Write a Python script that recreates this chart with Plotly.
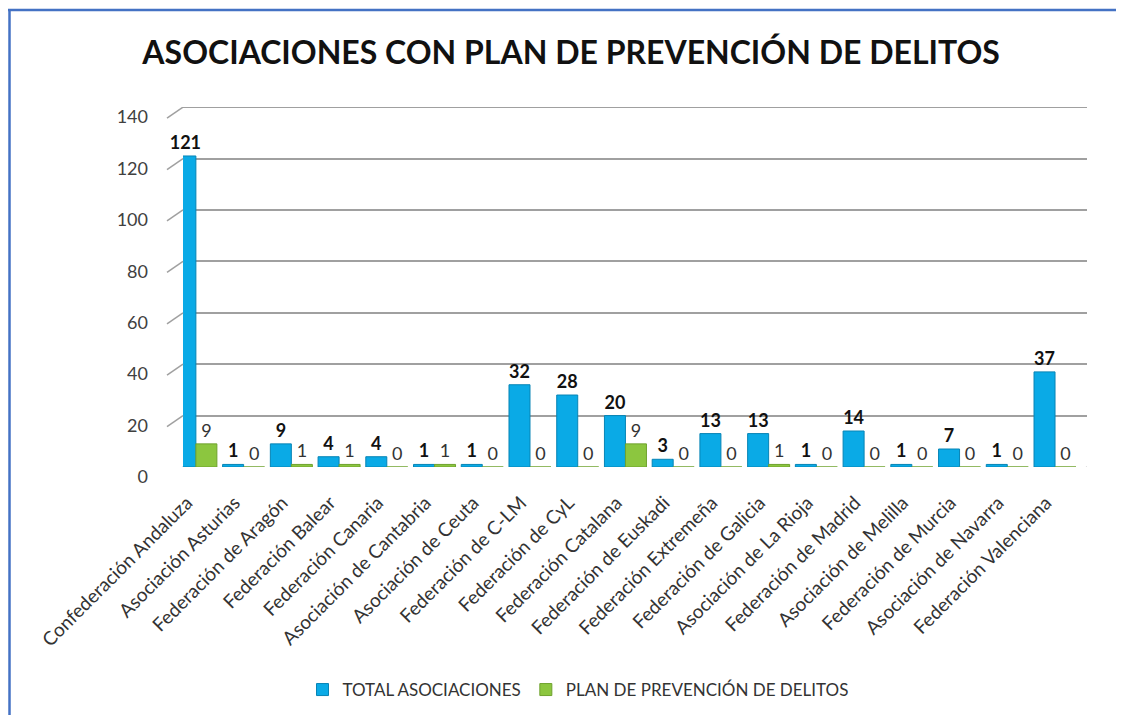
import plotly.graph_objects as go

categories = [
    "Confederación Andaluza", "Asociación Asturias", "Federación de Aragón",
    "Federación Balear", "Federación Canaria", "Asociación de Cantabria",
    "Asociación de Ceuta", "Federación de C-LM", "Federación de CyL",
    "Federación Catalana", "Federación de Euskadi", "Federación Extremeña",
    "Federación de Galicia", "Asociación de La Rioja", "Federación de Madrid",
    "Asociación de Melilla", "Federación de Murcia", "Asociación de Navarra",
    "Federación Valenciana",
]
total_asociaciones = [121, 1, 9, 4, 4, 1, 1, 32, 28, 20, 3, 13, 13, 1, 14, 1, 7, 1, 37]
plan_prevencion = [9, 0, 1, 1, 0, 1, 0, 0, 0, 9, 0, 0, 1, 0, 0, 0, 0, 0, 0]
y_ticks = [0, 20, 40, 60, 80, 100, 120, 140]

BLUE = "#0AAAE6"
GREEN = "#8CC63F"
GRID = "#A0A0A0"
FONT = "Lato, 'Open Sans', sans-serif"

W, H = 1124, 715
OFF = 8  # default page body margin
# plot area in page pixels
PL, PR, PT, PB = 183, 1087, 107, 467
ML, MR, MT = PL - OFF, W - (PR - OFF), PT - OFF
MB = H - (PB - OFF)
PW, PH = W - ML - MR, H - MT - MB


def px_x(page_x):
    return (page_x - OFF - ML) / PW


def px_y(page_y):
    return (MT + PH - (page_y - OFF)) / PH


fig = go.Figure()
fig.add_trace(go.Bar(
    x=list(range(len(categories))), y=total_asociaciones, name="TOTAL ASOCIACIONES",
    marker=dict(color=BLUE, line=dict(color="#0784B5", width=1)),
    text=total_asociaciones, textposition="outside", cliponaxis=False,
    constraintext="none",
    textfont=dict(family=FONT, size=18, color="#111111", weight="bold"),
))
fig.add_trace(go.Bar(
    x=list(range(len(categories))), y=plan_prevencion, name="PLAN DE PREVENCIÓN DE DELITOS",
    marker=dict(color=GREEN, line=dict(color="#6FA22E", width=1)),
    text=plan_prevencion, textposition="outside", cliponaxis=False,
    constraintext="none",
    textfont=dict(family=FONT, size=18, color="#333333"),
))

# top gridline (at the range edge) and 3D-like diagonal stubs at the left wall
fig.add_shape(type="line", xref="paper", yref="y", x0=0, x1=1,
              y0=y_ticks[-1], y1=y_ticks[-1], line=dict(color=GRID, width=1.5))
for v in y_ticks:
    fig.add_shape(type="line", xref="paper", yref="y",
                  xsizemode="pixel", xanchor=0, x0=-16, x1=0,
                  ysizemode="pixel", yanchor=v, y0=-11, y1=0,
                  line=dict(color=GRID, width=1.5))
# floor front edge and right diagonal
fig.add_shape(type="line", xref="paper", yref="y",
              x0=-16 / PW, x1=1 - 16 / PW,
              ysizemode="pixel", yanchor=0, y0=-11, y1=-11,
              line=dict(color=GRID, width=1.5))
fig.add_shape(type="line", xref="paper", yref="y",
              xsizemode="pixel", xanchor=1, x0=-16, x1=0,
              ysizemode="pixel", yanchor=0, y0=-11, y1=0,
              line=dict(color=GRID, width=1.5))

fig.update_layout(
    width=W, height=H,
    paper_bgcolor="white", plot_bgcolor="white",
    margin=dict(l=ML, r=MR, t=MT, b=MB, autoexpand=False),
    barmode="group", bargap=0.12, bargroupgap=0.0,
    title=dict(text="<b>ASOCIACIONES CON PLAN DE PREVENCIÓN DE DELITOS</b>",
               x=0.501, xanchor="center", y=0.938, yanchor="middle",
               font=dict(family=FONT, size=32, color="#111111")),
    showlegend=True,
    legend=dict(orientation="h", x=px_x(578), xanchor="center",
                y=px_y(690), yanchor="middle",
                font=dict(family=FONT, size=17, color="#333333"),
                itemwidth=30, traceorder="normal"),
    font=dict(family=FONT),
)
fig.update_yaxes(range=[0, 140.05], tickvals=y_ticks, showgrid=True,
                 gridcolor=GRID, gridwidth=1.5, zeroline=False,
                 showline=False, ticks="", ticklabelstandoff=34,
                 ticklabelshift=10, automargin=False,
                 tickfont=dict(family=FONT, size=18, color="#404040"))
fig.update_xaxes(range=[-0.27, 18.67], tickvals=list(range(len(categories))),
                 ticktext=categories, tickangle=-45, showgrid=False,
                 showline=False, ticks="", automargin=False,
                 ticklabelstandoff=20, ticklabelshift=-9,
                 tickfont=dict(family=FONT, size=19, color="#333333"))

# page border (blue lines at top and left)
fig.add_shape(type="line", xref="paper", yref="paper",
              x0=px_x(0), x1=px_x(W + 20), y0=px_y(10), y1=px_y(10),
              line=dict(color="#4472C4", width=2.5))
fig.add_shape(type="line", xref="paper", yref="paper",
              x0=px_x(9.5), x1=px_x(9.5), y0=px_y(9), y1=px_y(H + 20),
              line=dict(color="#4472C4", width=2.5))

fig.write_html("out.html")
